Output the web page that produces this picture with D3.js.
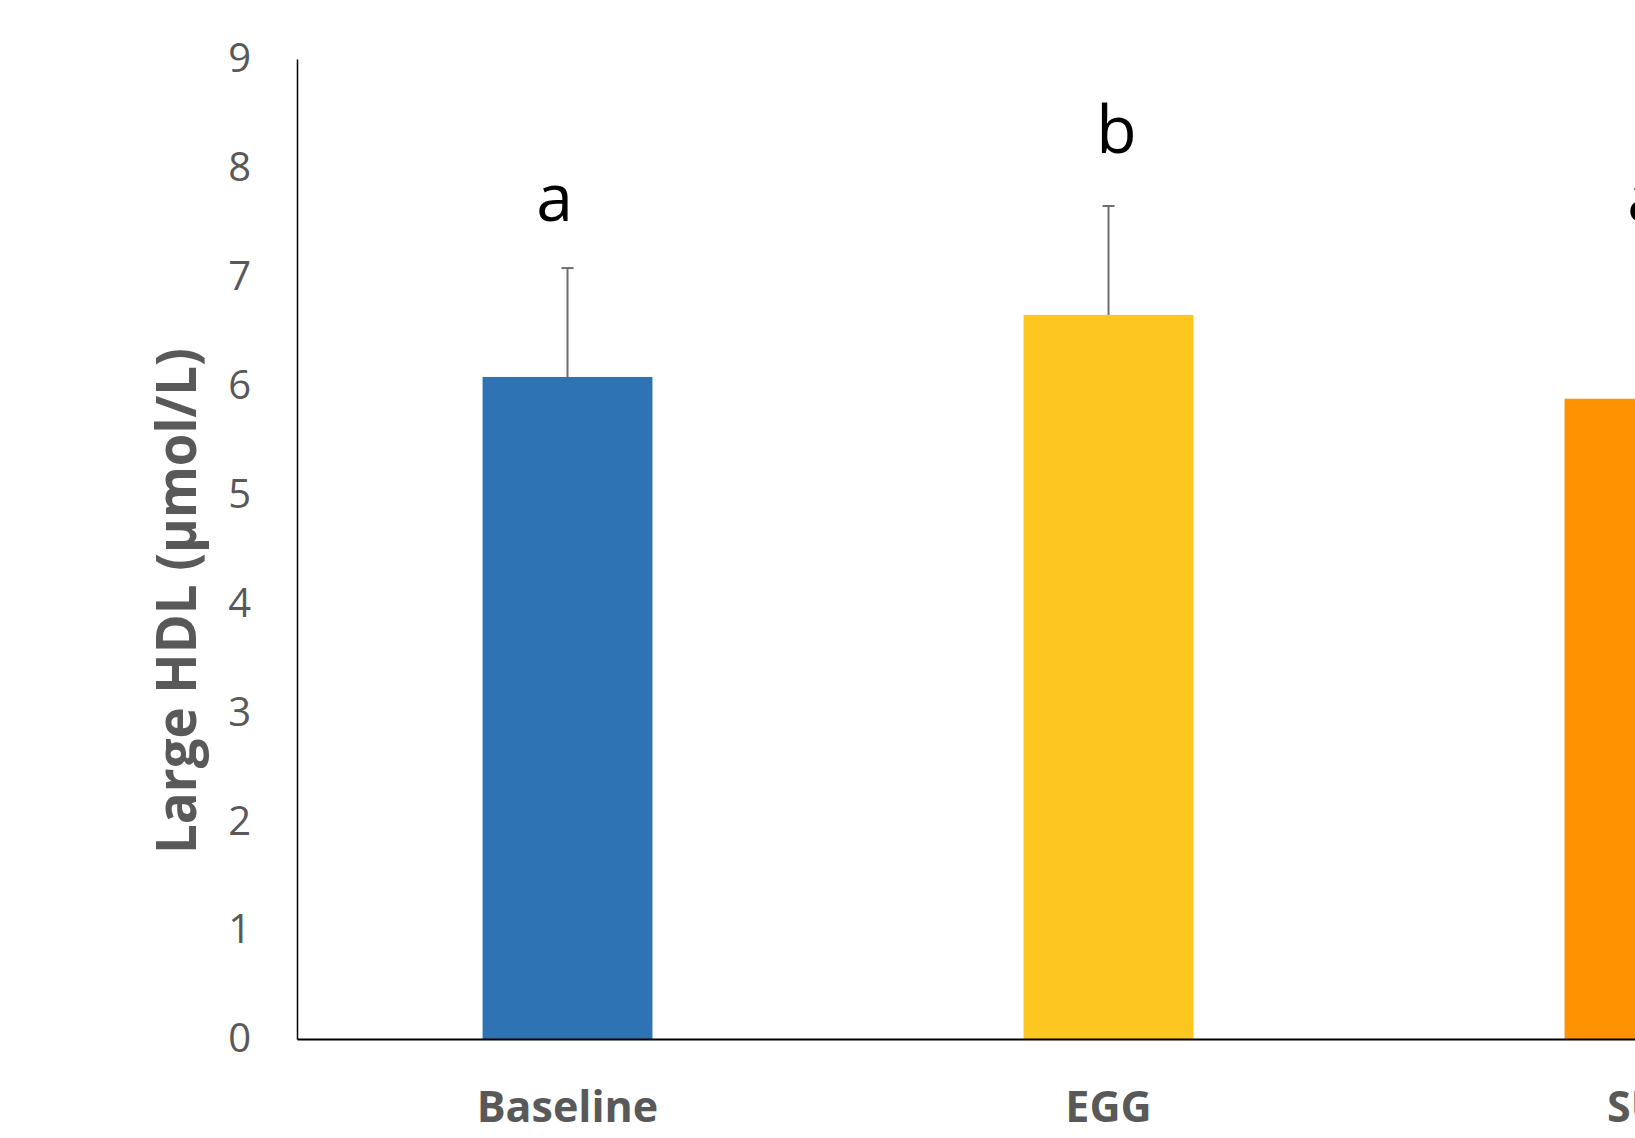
<!DOCTYPE html>
<html>
<head>
<meta charset="utf-8">
<script src="https://cdn.jsdelivr.net/npm/d3@7"></script>
<style>
  html, body { margin: 0; padding: 0; background: #fff; overflow: hidden; }
  svg { display: block; }
</style>
</head>
<body>
<svg id="chart" width="1635" height="1138"></svg>
<script>
// ---- data ----
const categories = ["Baseline", "EGG", "SUB"];
const means = [6.08, 6.65, 5.88];
const errors = [1.00, 1.00, 1.20];
const letters = ["a", "b", "a"];
const barColors = ["#2E74B5", "#FDC71F", "#FF9200"];
const yTicks = [0, 1, 2, 3, 4, 5, 6, 7, 8, 9];
const yTitle = "Large HDL (\u00B5mol/L)";

// ---- layout / style ----
const W = 1635, H = 1138;
const axisX = 297, yBottom = 1039, yTop = 59;
const step = 541;
const letterStyle = { dx: [-13, 8, -4], gap: [47, 53, 47] };

const svg = d3.select("#chart");

const x = d3.scaleBand()
  .domain(categories)
  .range([axisX, axisX + step * categories.length])
  .paddingInner(0.686)
  .paddingOuter(0.343);

const y = d3.scaleLinear().domain([0, 9]).range([yBottom, yTop]);

// bars
svg.append("g").selectAll("rect")
  .data(categories)
  .join("rect")
  .attr("x", d => x(d))
  .attr("y", (d, i) => y(means[i]))
  .attr("width", x.bandwidth())
  .attr("height", (d, i) => y(0) - y(means[i]))
  .attr("fill", (d, i) => barColors[i]);

// error bars (upper only)
const eg = svg.append("g").attr("stroke", "#6e6e6e").attr("stroke-width", 2);
categories.forEach((c, i) => {
  const cx = x(c) + x.bandwidth() / 2;
  eg.append("line").attr("x1", cx).attr("x2", cx)
    .attr("y1", y(means[i])).attr("y2", y(means[i] + errors[i]));
  eg.append("line").attr("x1", cx - 6).attr("x2", cx + 6)
    .attr("y1", y(means[i] + errors[i])).attr("y2", y(means[i] + errors[i]));
});

// significance letters
svg.append("g").selectAll("text")
  .data(categories)
  .join("text")
  .attr("x", (d, i) => x(d) + x.bandwidth() / 2 + letterStyle.dx[i])
  .attr("y", (d, i) => y(means[i] + errors[i]) - letterStyle.gap[i])
  .attr("text-anchor", "middle")
  .attr("font-family", "'Open Sans', sans-serif")
  .attr("font-size", 66)
  .attr("fill", "#000")
  .text((d, i) => letters[i]);

// y axis
const yAxis = d3.axisLeft(y).tickValues(yTicks).tickSize(0).tickPadding(46).tickFormat(d3.format("d"));
const ya = svg.append("g").attr("transform", `translate(${axisX},0)`).call(yAxis);
ya.select(".domain").attr("stroke", "#000").attr("stroke-width", 1.5);
ya.selectAll("text")
  .attr("font-family", "'Open Sans', sans-serif")
  .attr("font-size", 40)
  .attr("fill", "#595959");

// x axis
const xAxis = d3.axisBottom(x).tickSize(0).tickPadding(0);
const xa = svg.append("g").attr("transform", `translate(0,${yBottom})`).call(xAxis);
xa.select(".domain").attr("stroke", "#000").attr("stroke-width", 2);
xa.selectAll("text")
  .attr("dy", null)
  .attr("y", 83)
  .attr("font-family", "'Open Sans', sans-serif")
  .attr("font-weight", "bold")
  .attr("font-size", 43)
  .attr("fill", "#595959");

// y title
svg.append("text")
  .attr("transform", "translate(196,601) rotate(-90)")
  .attr("text-anchor", "middle")
  .attr("font-family", "'Open Sans', sans-serif")
  .attr("font-weight", "bold")
  .attr("font-size", 56)
  .attr("fill", "#595959")
  .attr("textLength", 506)
  .attr("lengthAdjust", "spacingAndGlyphs")
  .text(yTitle);
</script>
</body>
</html>
